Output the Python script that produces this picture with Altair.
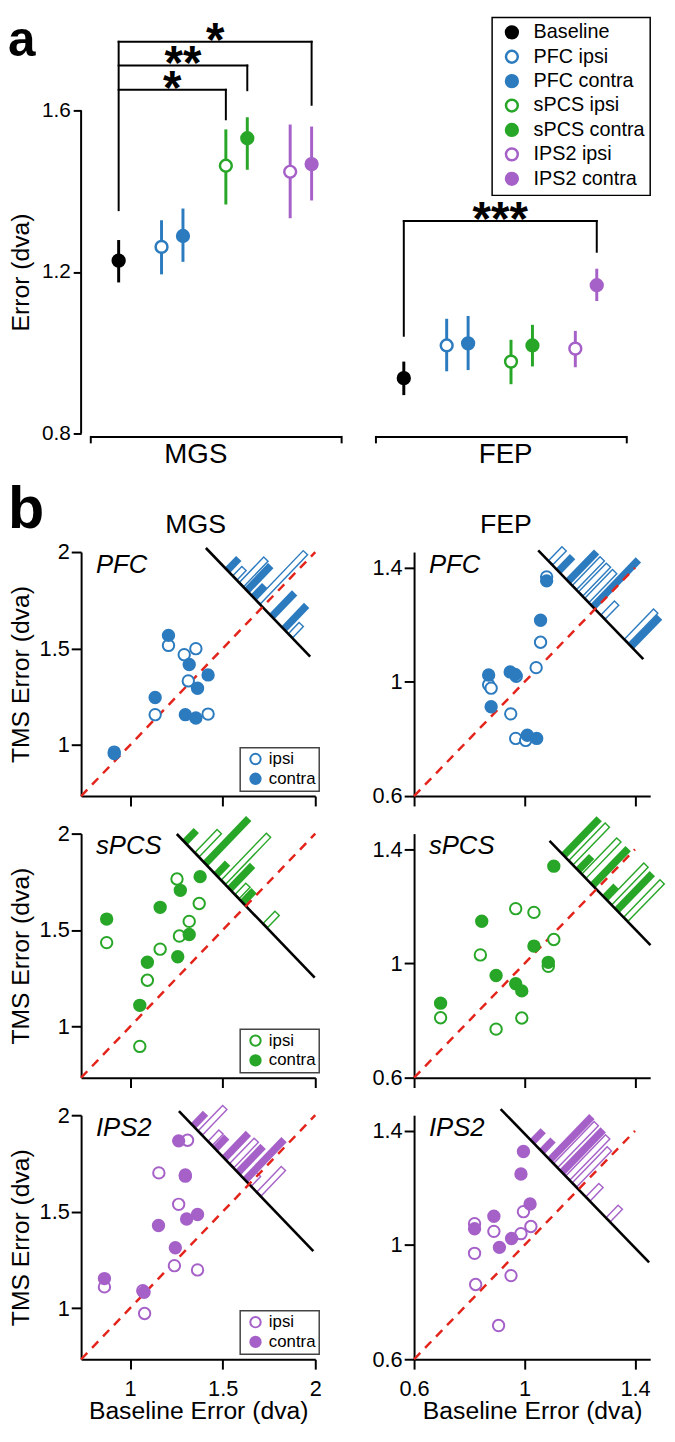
import math
import altair as alt
import pandas as pd

FONT = "Liberation Sans"
BLACK = "#000000"
BLUE = "#2c7bbf"
GREEN = "#27a627"
PURPLE = "#a561c8"
RED = "#e3241b"

# ---------------- panel a : group means with error bars ----------------
CONDITIONS = ["Baseline", "PFC ipsi", "PFC contra", "sPCS ipsi", "sPCS contra", "IPS2 ipsi", "IPS2 contra"]
COND_STROKE = [BLACK, BLUE, BLUE, GREEN, GREEN, PURPLE, PURPLE]
COND_FILL = [BLACK, "white", BLUE, "white", GREEN, "white", PURPLE]
TASKS = ["MGS", "FEP"]

MGS_MEAN = [1.228, 1.262, 1.289, 1.463, 1.531, 1.448, 1.467]
MGS_LOW = [1.174, 1.194, 1.225, 1.367, 1.453, 1.333, 1.377]
MGS_HIGH = [1.279, 1.328, 1.357, 1.553, 1.583, 1.565, 1.560]
FEP_MEAN = [0.937, 1.018, 1.023, 0.978, 1.018, 1.010, 1.167]
FEP_LOW = [0.895, 0.954, 0.957, 0.922, 0.966, 0.964, 1.128]
FEP_HIGH = [0.978, 1.084, 1.091, 1.032, 1.069, 1.054, 1.208]

SIG_TASK = ["MGS", "MGS", "MGS", "FEP"]
SIG_TARGET = ["sPCS ipsi", "sPCS contra", "IPS2 contra", "IPS2 contra"]
SIG_LABEL = ["*", "**", "*", "***"]
SIG_LEVEL = [1.651, 1.711, 1.770, 1.326]
SIG_DROP = [1.578, 1.650, 1.614, 1.250]
SIG_STEM_START = [1.353, 1.042]

A_TICKS = [0.8, 1.2, 1.6]

# ---------------- panel b : individual subjects ----------------
REGIONS = ["PFC", "sPCS", "IPS2"]
REGION_COLORS = [BLUE, GREEN, PURPLE]
MGS_DOMAIN = [0.735, 2.0]
FEP_DOMAIN = [0.6, 1.455]
MGS_TICKS = [1, 1.5, 2]
FEP_TICKS = [0.6, 1, 1.4]
MGS_DIAG = [0.735, 2.0]
FEP_DIAG = [0.6, 1.4]

MGS_PFC_IPSI_X = [0.914, 1.135, 1.207, 1.292, 1.355, 1.314, 1.421]
MGS_PFC_IPSI_Y = [0.963, 1.157, 1.516, 1.468, 1.499, 1.332, 1.160]
MGS_PFC_CONTRA_X = [0.914, 1.135, 1.207, 1.319, 1.364, 1.421, 1.298, 1.355]
MGS_PFC_CONTRA_Y = [0.955, 1.246, 1.568, 1.417, 1.294, 1.363, 1.157, 1.140]

FEP_PFC_IPSI_X = [1.080, 1.058, 1.042, 0.870, 0.879, 0.970, 0.950, 0.968, 1.004]
FEP_PFC_IPSI_Y = [1.368, 1.139, 1.050, 0.990, 0.978, 1.020, 0.888, 0.802, 0.795]
FEP_PFC_CONTRA_X = [1.080, 1.058, 0.870, 0.879, 0.948, 0.966, 1.010, 1.044]
FEP_PFC_CONTRA_Y = [1.354, 1.216, 1.024, 0.913, 1.035, 1.026, 0.813, 0.802]

MGS_SPCS_IPSI_X = [0.873, 1.253, 1.373, 1.319, 1.266, 1.162, 1.093, 1.052]
MGS_SPCS_IPSI_Y = [1.435, 1.765, 1.638, 1.545, 1.469, 1.401, 1.240, 0.897]
MGS_SPCS_CONTRA_X = [0.873, 1.271, 1.378, 1.162, 1.319, 1.257, 1.093, 1.052]
MGS_SPCS_CONTRA_Y = [1.557, 1.706, 1.777, 1.618, 1.477, 1.362, 1.333, 1.110]

FEP_SPCS_IPSI_X = [0.968, 1.034, 1.106, 0.840, 1.086, 0.696, 0.990, 0.897]
FEP_SPCS_IPSI_Y = [1.192, 1.179, 1.084, 1.030, 0.990, 0.810, 0.809, 0.770]
FEP_SPCS_CONTRA_X = [1.106, 0.845, 1.034, 1.086, 0.897, 0.968, 0.990, 0.696]
FEP_SPCS_CONTRA_Y = [1.341, 1.148, 1.061, 1.004, 0.958, 0.929, 0.904, 0.861]

MGS_IPS2_IPSI_X = [1.310, 1.155, 1.298, 1.262, 1.239, 1.364, 0.861, 1.068, 1.078]
MGS_IPS2_IPSI_Y = [1.870, 1.701, 1.690, 1.538, 1.220, 1.198, 1.110, 1.090, 0.972]
MGS_IPS2_CONTRA_X = [1.262, 1.298, 1.364, 1.305, 1.153, 1.244, 0.861, 1.075]
MGS_IPS2_CONTRA_Y = [1.867, 1.684, 1.485, 1.462, 1.428, 1.313, 1.153, 1.082]

FEP_IPS2_IPSI_X = [0.996, 1.023, 0.987, 0.889, 0.819, 0.819, 0.823, 0.951, 0.906]
FEP_IPS2_IPSI_Y = [1.117, 1.065, 1.040, 1.048, 1.075, 0.971, 0.862, 0.893, 0.718]
FEP_IPS2_CONTRA_X = [0.996, 0.987, 1.020, 0.889, 0.953, 0.909, 0.819]
FEP_IPS2_CONTRA_Y = [1.328, 1.249, 1.144, 1.101, 1.023, 0.992, 1.057]

# histograms of TMS - baseline error (bin centre in dva, count)
MGS_PFC_HIST_IPSI_D = [0.30, 0.23, 0.05, -0.30]
MGS_PFC_HIST_IPSI_N = [0.85, 2.2, 4.2, 1.0]
MGS_PFC_HIST_CONTRA_D = [0.38, 0.17, 0.10, -0.10, -0.23]
MGS_PFC_HIST_CONTRA_N = [1.0, 2.1, 1.0, 2.0, 2.0]
FEP_PFC_HIST_IPSI_D = [0.323, 0.150, 0.105, 0.060, -0.057, -0.227]
FEP_PFC_HIST_IPSI_N = [1.0, 2.0, 2.0, 2.0, 1.0, 2.1]
FEP_PFC_HIST_CONTRA_D = [0.265, 0.194, 0.015, -0.262]
FEP_PFC_HIST_CONTRA_N = [1.0, 2.0, 3.2, 2.0]

MGS_SPCS_HIST_IPSI_D = [0.529, 0.244, 0.096, -0.207]
MGS_SPCS_HIST_IPSI_N = [2.0, 4.0, 1.0, 1.1]
MGS_SPCS_HIST_CONTRA_D = [0.659, 0.438, 0.321, 0.174, 0.035]
MGS_SPCS_HIST_CONTRA_N = [1.0, 3.8, 1.0, 2.0, 1.0]
FEP_SPCS_HIST_IPSI_D = [0.185, 0.091, -0.095, -0.212]
FEP_SPCS_HIST_IPSI_N = [2.6, 2.5, 2.6, 2.6]
FEP_SPCS_HIST_CONTRA_D = [0.237, 0.132, 0.027, -0.060, -0.148]
FEP_SPCS_HIST_CONTRA_N = [2.5, 0.95, 2.5, 0.8, 2.5]

MGS_IPS2_HIST_IPSI_D = [0.529, 0.422, 0.189, 0.000, -0.104]
MGS_IPS2_HIST_IPSI_N = [2.2, 1.0, 2.2, 0.86, 2.2]
MGS_IPS2_HIST_CONTRA_D = [0.603, 0.365, 0.267, 0.120, 0.042]
MGS_IPS2_HIST_CONTRA_N = [1.07, 1.0, 2.1, 2.2, 3.4]
FEP_IPS2_HIST_IPSI_D = [0.166, 0.078, 0.030, -0.068, -0.214]
FEP_IPS2_HIST_IPSI_N = [2.9, 2.85, 2.5, 0.96, 0.9]
FEP_IPS2_HIST_CONTRA_D = [0.333, 0.265, 0.206, 0.119]
FEP_IPS2_HIST_CONTRA_N = [0.76, 0.79, 2.95, 2.9]

# histogram axes: constant (baseline + TMS) and extent in (TMS - baseline)
MGS_HIST_SUM = [3.43, 3.25, 3.285]
MGS_HIST_DMIN = [-0.515, -0.744, -0.694]
MGS_HIST_DMAX = [0.612, 0.746, 0.758]
FEP_HIST_SUM = [2.51, 2.52, 2.39]
FEP_HIST_DMIN = [-0.350, -0.392, -0.512]
FEP_HIST_DMAX = [0.411, 0.339, 0.563]

# ---------------- layout / style constants ----------------
COND_SLOT = [0, 2, 3, 5, 6, 8, 9]
TASK_OFFSET = [0.0, 13.3]
TASK_LABEL_SLOT = [3.6, 18.05]
PX_PER_SLOT = 21.7
COL_W = [237, 239]
COL_GAP = 100
ROW_GAP = 38
A_H = 327                  # pixels between 1.6 and 0.8 in panel a
A_CELL_H = 409             # panel a cell height (room for the group brackets)
A_SLOT_LEFT = -1.751       # slot at the left edge of the MGS column
B_H = 247


def slot_of(task, cond):
    return TASK_OFFSET[TASKS.index(task)] + COND_SLOT[CONDITIONS.index(cond)]


# ================= panel a =================
rows = []
for ti, task in enumerate(TASKS):
    mean, low, high = (MGS_MEAN, MGS_LOW, MGS_HIGH) if task == "MGS" else (FEP_MEAN, FEP_LOW, FEP_HIGH)
    for ci, cond in enumerate(CONDITIONS):
        rows.append(dict(task=task, cond=cond, slot=slot_of(task, cond),
                         mean=mean[ci], low=low[ci], high=high[ci], col=COND_STROKE[ci]))
df_a = pd.DataFrame(rows)

seg = []
for ti, task in enumerate(TASKS):
    top = max(l for t, l in zip(SIG_TASK, SIG_LEVEL) if t == task)
    s = slot_of(task, "Baseline")
    seg.append(dict(task=task, x=s, x2=s, y=SIG_STEM_START[ti], y2=top))
stars = []
for t, tgt, lab, lev, drop in zip(SIG_TASK, SIG_TARGET, SIG_LABEL, SIG_LEVEL, SIG_DROP):
    s0, s1 = slot_of(t, "Baseline"), slot_of(t, tgt)
    seg.append(dict(task=t, x=s0, x2=s1, y=lev, y2=lev))
    seg.append(dict(task=t, x=s1, x2=s1, y=lev, y2=drop))
    stars.append(dict(task=t, xm=(s0 + s1) / 2, y=lev, label=lab))
df_seg = pd.DataFrame(seg)
df_stars = pd.DataFrame(stars)

grp = []
ends = []
for ti, task in enumerate(TASKS):
    x0 = TASK_OFFSET[ti] - 1.3
    x1 = TASK_OFFSET[ti] + COND_SLOT[-1] + 1.4
    grp.append(dict(task=task, x0=x0, x1=x1, lab=TASK_LABEL_SLOT[ti]))
    ends += [dict(task=task, x=x0), dict(task=task, x=x1)]
df_grp = pd.DataFrame(grp)
df_ends = pd.DataFrame(ends)

a_ydom = [A_TICKS[0] - (A_CELL_H - A_H) * (A_TICKS[-1] - A_TICKS[0]) / A_H, A_TICKS[-1]]


def panel_a_cell(ti):
    task = TASKS[ti]
    W = COL_W[ti]
    left_px = 0 if ti == 0 else COL_W[0] + COL_GAP
    x_start = A_SLOT_LEFT + left_px / PX_PER_SLOT
    xs = alt.Scale(domain=[x_start, x_start + W / PX_PER_SLOT], nice=False, zero=False)
    ys = alt.Scale(domain=a_ydom, nice=False, zero=False)
    if ti == 0:
        yaxis = alt.Axis(values=A_TICKS, format=".1f", domain=False, tickSize=8, tickWidth=2,
                         labelFontSize=21, labelPadding=3, title="Error (dva)", titleFontSize=25,
                         titleFontWeight="normal", titleX=-48, titleY=A_H / 2, grid=False)
    else:
        yaxis = None

    def AX(f):
        return alt.X(f, type="quantitative", scale=xs, axis=None)

    def AY(f):
        return alt.Y(f, type="quantitative", scale=ys, axis=yaxis)

    if ti == 1:
        leg = alt.Legend(title=None, orient="none", legendX=79, legendY=-94, padding=5,
                         labelFont=FONT, labelFontSize=20, labelColor="black", symbolType="circle",
                         symbolSize=143, symbolStrokeWidth=2.5, symbolOffset=5, labelOffset=12,
                         rowPadding=2.7, strokeColor="black", fillColor="white")
    else:
        leg = None

    d = df_a[df_a.task == task]
    errbars = alt.Chart(d).mark_rule(strokeWidth=3).encode(
        x=AX("slot"), y=AY("low"), y2="high", stroke=alt.Stroke("col:N", scale=None))
    pts = alt.Chart(d).mark_point(shape="circle", size=143, strokeWidth=2.5, opacity=1).encode(
        x=AX("slot"), y=AY("mean"),
        fill=alt.Fill("cond:N", scale=alt.Scale(domain=CONDITIONS, range=COND_FILL), legend=leg),
        stroke=alt.Stroke("cond:N", scale=alt.Scale(domain=CONDITIONS, range=COND_STROKE), legend=leg))
    brackets = alt.Chart(df_seg[df_seg.task == task]).mark_rule(
        strokeWidth=2, color="black", strokeCap="square").encode(
        x=AX("x"), x2="x2", y=AY("y"), y2="y2")
    star_text = alt.Chart(df_stars[df_stars.task == task]).mark_text(
        font=FONT, fontSize=48, fontWeight="bold", dy=14, align="center", baseline="alphabetic",
        color="black").encode(x=AX("xm"), y=AY("y"), text="label:N")
    g = df_grp[df_grp.task == task]
    grp_line = alt.Chart(g).mark_rule(strokeWidth=2, color="black").encode(
        x=AX("x0"), x2="x1", y=alt.value(A_H + 3.5))
    grp_ends = alt.Chart(df_ends[df_ends.task == task]).mark_rule(strokeWidth=2, color="black").encode(
        x=AX("x"), y=alt.value(A_H + 2.5), y2=alt.value(A_H + 10))
    grp_text = alt.Chart(g).mark_text(font=FONT, fontSize=28, align="center", baseline="alphabetic",
                                      color="black").encode(
        x=AX("lab"), y=alt.value(A_H + 30), text="task:N")
    layers = [errbars, pts, brackets, star_text, grp_line, grp_ends, grp_text]
    if ti == 0:
        axis_line = alt.Chart(pd.DataFrame({"y": [A_TICKS[0]], "y2": [A_TICKS[-1]]})).mark_rule(
            strokeWidth=2, color="black").encode(x=alt.value(0), y=AY("y"), y2="y2")
        label_a = alt.Chart(pd.DataFrame({"t": ["a"]})).mark_text(
            font=FONT, fontSize=50, fontWeight="bold", align="left", baseline="alphabetic",
            color="black").encode(text="t:N", x=alt.value(-74), y=alt.value(-55))
        layers = [axis_line] + layers + [label_a]
    return alt.layer(*layers).properties(width=W, height=A_CELL_H)


# ================= panel b =================
def bar_frame(ds, ns, c, unit, inset):
    out = []
    for d, n in zip(ds, ns):
        x0, y0 = (c - d) / 2, (c + d) / 2
        h = n * unit
        out.append(dict(x0=x0, y0=y0, x1=x0 + h, y1=y0 + h,
                        ix0=x0 + inset, iy0=y0 + inset, ix1=x0 + h - inset, iy1=y0 + h - inset))
    return pd.DataFrame(out)


def scatter_panel(task, r, ix, iy, cx, cy, hid, hin, hcd, hcn):
    mgs = task == "MGS"
    region = REGIONS[r]
    color = REGION_COLORS[r]
    dom = MGS_DOMAIN if mgs else FEP_DOMAIN
    ticks = MGS_TICKS if mgs else FEP_TICKS
    diag = MGS_DIAG if mgs else FEP_DIAG
    hsum = (MGS_HIST_SUM if mgs else FEP_HIST_SUM)[r]
    dmin = (MGS_HIST_DMIN if mgs else FEP_HIST_DMIN)[r]
    dmax = (MGS_HIST_DMAX if mgs else FEP_HIST_DMAX)[r]
    W, H = COL_W[0 if mgs else 1], B_H
    span = dom[1] - dom[0]
    px_per_h = math.hypot(W / span, H / span)
    unit = (16.7 if mgs else 20.7) / px_per_h
    inset = 1.4 / px_per_h
    last = r == 2

    xs = alt.Scale(domain=dom, nice=False, zero=False)
    ys = alt.Scale(domain=dom, nice=False, zero=False)
    xaxis = alt.Axis(values=ticks, format="~g", tickSize=10, tickWidth=2, domainWidth=2,
                     labels=last, labelFontSize=22, labelPadding=10, labelFlush=False,
                     title="Baseline Error (dva)" if last else None, titleFontSize=25,
                     titleFontWeight="normal", titleY=40, grid=False)
    yaxis = alt.Axis(values=ticks, format="~g", tickSize=10, tickWidth=2, domainWidth=2,
                     labelFontSize=22, labelPadding=2,
                     title="TMS Error (dva)" if mgs else None, titleFontSize=25,
                     titleFontWeight="normal", titleX=-48, titleY=H / 2, grid=False)

    def X(f):
        return alt.X(f, type="quantitative", scale=xs, axis=xaxis)

    def Y(f):
        return alt.Y(f, type="quantitative", scale=ys, axis=yaxis)

    bi = bar_frame(hid, hin, hsum, unit, inset)
    bc = bar_frame(hcd, hcn, hsum, unit, inset)
    ipsi_outer = alt.Chart(bi).mark_rule(strokeWidth=7.5, color=color).encode(
        x=X("x0"), y=Y("y0"), x2="x1", y2="y1")
    ipsi_inner = alt.Chart(bi).mark_rule(strokeWidth=4.6, color="white").encode(
        x=X("ix0"), y=Y("iy0"), x2="ix1", y2="iy1")
    contra_bars = alt.Chart(bc).mark_rule(strokeWidth=7.5, color=color).encode(
        x=X("x0"), y=Y("y0"), x2="x1", y2="y1")
    hline = pd.DataFrame([dict(x0=(hsum - dmax) / 2, y0=(hsum + dmax) / 2,
                               x1=(hsum - dmin) / 2, y1=(hsum + dmin) / 2)])
    hist_axis = alt.Chart(hline).mark_rule(strokeWidth=2.6, color="black").encode(
        x=X("x0"), y=Y("y0"), x2="x1", y2="y1")
    dline = pd.DataFrame([dict(x0=diag[0], y0=diag[0], x1=diag[1], y1=diag[1])])
    diag_rule = alt.Chart(dline).mark_rule(strokeWidth=2.5, color=RED, strokeDash=[9, 7]).encode(
        x=X("x0"), y=Y("y0"), x2="x1", y2="y1")

    pts = pd.DataFrame({"x": ix + cx, "y": iy + cy,
                        "hemi": ["ipsi"] * len(ix) + ["contra"] * len(cx)})
    if mgs:
        leg = alt.Legend(title=None, orient="none", legendX=161, legendY=198, padding=3,
                         labelFont=FONT, labelFontSize=17, labelColor="black", symbolType="circle",
                         symbolSize=110, symbolStrokeWidth=2, symbolOffset=4, labelOffset=5,
                         rowPadding=1, strokeColor="#444444", fillColor="white")
    else:
        leg = None
    scatter = alt.Chart(pts).mark_point(shape="circle", size=133, strokeWidth=2, opacity=1).encode(
        x=X("x"), y=Y("y"),
        fill=alt.Fill("hemi:N", scale=alt.Scale(domain=["ipsi", "contra"], range=["white", color]), legend=leg),
        stroke=alt.Stroke("hemi:N", scale=alt.Scale(domain=["ipsi", "contra"], range=[color, color]), legend=leg))

    region_text = alt.Chart(pd.DataFrame({"t": [region]})).mark_text(
        font=FONT, fontSize=26, fontStyle="italic", align="left", baseline="alphabetic", color="black").encode(
        text="t:N", x=alt.value(15), y=alt.value(21))

    layers = [ipsi_outer, ipsi_inner, contra_bars, hist_axis, diag_rule, scatter, region_text]
    if r == 0:
        layers.append(alt.Chart(pd.DataFrame({"t": [task]})).mark_text(
            font=FONT, fontSize=27, align="center", baseline="alphabetic", color="black").encode(
            text="t:N", x=alt.value(116 if mgs else 93), y=alt.value(-19)))
        if mgs:
            layers.append(alt.Chart(pd.DataFrame({"t": ["b"]})).mark_text(
                font=FONT, fontSize=60, fontWeight="bold", align="left", baseline="alphabetic",
                color="black").encode(text="t:N", x=alt.value(-74), y=alt.value(-24)))
    return alt.layer(*layers).properties(width=W, height=H)


PANEL_DATA = [
    (MGS_PFC_IPSI_X, MGS_PFC_IPSI_Y, MGS_PFC_CONTRA_X, MGS_PFC_CONTRA_Y,
     MGS_PFC_HIST_IPSI_D, MGS_PFC_HIST_IPSI_N, MGS_PFC_HIST_CONTRA_D, MGS_PFC_HIST_CONTRA_N,
     FEP_PFC_IPSI_X, FEP_PFC_IPSI_Y, FEP_PFC_CONTRA_X, FEP_PFC_CONTRA_Y,
     FEP_PFC_HIST_IPSI_D, FEP_PFC_HIST_IPSI_N, FEP_PFC_HIST_CONTRA_D, FEP_PFC_HIST_CONTRA_N),
    (MGS_SPCS_IPSI_X, MGS_SPCS_IPSI_Y, MGS_SPCS_CONTRA_X, MGS_SPCS_CONTRA_Y,
     MGS_SPCS_HIST_IPSI_D, MGS_SPCS_HIST_IPSI_N, MGS_SPCS_HIST_CONTRA_D, MGS_SPCS_HIST_CONTRA_N,
     FEP_SPCS_IPSI_X, FEP_SPCS_IPSI_Y, FEP_SPCS_CONTRA_X, FEP_SPCS_CONTRA_Y,
     FEP_SPCS_HIST_IPSI_D, FEP_SPCS_HIST_IPSI_N, FEP_SPCS_HIST_CONTRA_D, FEP_SPCS_HIST_CONTRA_N),
    (MGS_IPS2_IPSI_X, MGS_IPS2_IPSI_Y, MGS_IPS2_CONTRA_X, MGS_IPS2_CONTRA_Y,
     MGS_IPS2_HIST_IPSI_D, MGS_IPS2_HIST_IPSI_N, MGS_IPS2_HIST_CONTRA_D, MGS_IPS2_HIST_CONTRA_N,
     FEP_IPS2_IPSI_X, FEP_IPS2_IPSI_Y, FEP_IPS2_CONTRA_X, FEP_IPS2_CONTRA_Y,
     FEP_IPS2_HIST_IPSI_D, FEP_IPS2_HIST_IPSI_N, FEP_IPS2_HIST_CONTRA_D, FEP_IPS2_HIST_CONTRA_N),
]

RES = dict(x="independent", y="independent", fill="independent", stroke="independent")
LRES = dict(fill="independent", stroke="independent")

cells = [panel_a_cell(0), panel_a_cell(1)]
for r, p in enumerate(PANEL_DATA):
    cells.append(scatter_panel("MGS", r, *p[:8]))
    cells.append(scatter_panel("FEP", r, *p[8:]))

chart = (alt.concat(*cells, columns=2, spacing={"row": ROW_GAP, "column": COL_GAP},
                    bounds="flush", align="each", padding=0)
         .resolve_scale(**RES).resolve_legend(**LRES)
         .configure(font=FONT)
         .configure_view(stroke=None)
         .configure_axis(grid=False, domainColor="black", tickColor="black", labelColor="black",
                         titleColor="black", labelFont=FONT, titleFont=FONT)
         .configure_legend(strokeWidth=1.5))

chart.save("out.html", embed_options={"renderer": "svg", "actions": False})
